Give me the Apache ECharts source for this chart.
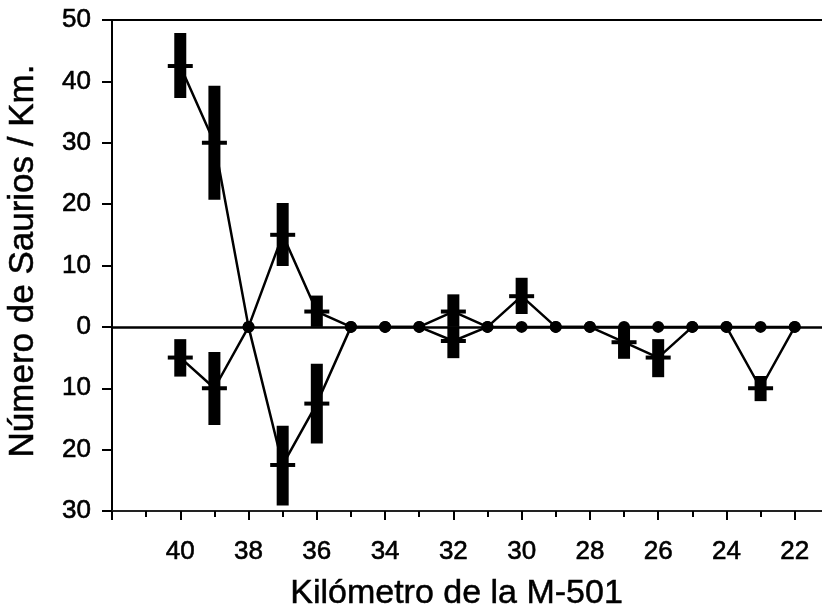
<!DOCTYPE html>
<html>
<head>
<meta charset="utf-8">
<script src="https://cdn.jsdelivr.net/npm/echarts@6/dist/echarts.min.js"></script>
<style>
html,body{margin:0;padding:0;background:#fff;}
#chart{width:822px;height:610px;}
</style>
</head>
<body>
<div id="chart"></div>
<script>
// Kilometre points along the M-501
var km = [40, 39, 38, 37, 36, 35, 34, 33, 32, 31, 30, 29, 28, 27, 26, 25, 24, 23, 22];
// Upper series (plotted above zero)
var upperMean = [42.5, 30, 0, 15, 2.5, 0, 0, 0, 2.5, 0, 5, 0, 0, 0, 0, 0, 0, 0, 0];
var upperLow  = [37.3, 20.7, null, 9.9, 0, null, null, null, 0, null, 2.1, null, null, null, null, null, null, null, null];
var upperHigh = [47.9, 39.3, null, 20.2, 5.1, null, null, null, 5.3, null, 8.0, null, null, null, null, null, null, null, null];
// Lower series (plotted below zero)
var lowerMean = [-5, -10, 0, -22.5, -12.5, 0, 0, 0, -2.3, 0, 0, 0, 0, -2.5, -5, 0, 0, -10, 0];
var lowerLow  = [-8.1, -16, null, -29.1, -19, null, null, null, -5.1, null, null, null, null, -5.2, -8.2, null, null, -12.1, null];
var lowerHigh = [-2, -4.1, null, -16.1, -6, null, null, null, 0, null, null, null, null, 0, -2, null, null, -8, null];
// Axis ticks
var yTicks = {min: -30, max: 50, interval: 10};
var xTicks = {min: 20, max: 42, interval: 2};

var FONT = "'Liberation Sans', Arial, Helvetica, sans-serif";

function lineData(means) {
  return km.map(function (k, i) {
    var v = means[i];
    return {value: [k, v], symbol: v === 0 ? 'circle' : 'none'};
  });
}
function barData(means, lows, highs) {
  var out = [];
  km.forEach(function (k, i) {
    if (lows[i] !== null) out.push([k, lows[i], highs[i], means[i]]);
  });
  return out;
}
function renderErr(params, api) {
  var x = api.value(0);
  var top = api.coord([x, api.value(2)]);
  var bot = api.coord([x, api.value(1)]);
  var mid = api.coord([x, api.value(3)]);
  var rw = 12, dw = 25, dh = 4;
  return {
    type: 'group',
    children: [
      {type: 'rect', shape: {x: top[0] - rw / 2, y: top[1], width: rw, height: bot[1] - top[1]}, style: {fill: '#000'}},
      {type: 'rect', shape: {x: mid[0] - dw / 2, y: mid[1] - dh / 2, width: dw, height: dh}, style: {fill: '#000'}}
    ]
  };
}

var chart = echarts.init(document.getElementById('chart'), null, {renderer: 'canvas'});
chart.setOption({
  backgroundColor: '#fff',
  animation: false,
  grid: {left: 112, width: 751, top: 20, height: 491, show: true, borderColor: '#000', borderWidth: 2, backgroundColor: 'transparent', containLabel: false, outerBoundsMode: 'none'},
  xAxis: {
    type: 'value', inverse: true,
    min: xTicks.min, max: xTicks.max, interval: xTicks.interval,
    axisLine: {show: true, onZero: false, lineStyle: {color: '#222', width: 2}},
    axisTick: {show: true, inside: false, length: 9, lineStyle: {color: '#000', width: 2}},
    minorTick: {show: true, splitNumber: 2, length: 6, lineStyle: {color: '#000', width: 2}},
    splitLine: {show: false},
    axisLabel: {
      color: '#000', fontFamily: FONT, fontSize: 26, margin: 28,
      textBorderColor: '#000', textBorderWidth: 0.6,
      formatter: function (v) { return v === 42 || v === 20 ? '' : String(v); }
    }
  },
  yAxis: {
    type: 'value',
    min: yTicks.min, max: yTicks.max, interval: yTicks.interval,
    axisLine: {show: true, onZero: false, lineStyle: {color: '#000', width: 2}},
    axisTick: {show: true, length: 10, lineStyle: {color: '#000', width: 2}},
    splitLine: {show: false},
    axisLabel: {
      color: '#000', fontFamily: FONT, fontSize: 26, margin: 21,
      textBorderColor: '#000', textBorderWidth: 0.6,
      formatter: function (v) { return String(Math.abs(v)); }
    }
  },
  graphic: [
    {type: 'text', left: 290, top: 576, style: {text: 'Kilómetro de la M-501', fill: '#000', stroke: '#000', lineWidth: 0.5, font: '34px ' + FONT}},
    {type: 'text', x: 6, y: 261, rotation: Math.PI / 2, style: {text: 'Número de Saurios / Km.', fill: '#000', stroke: '#000', lineWidth: 0.5, font: '35px ' + FONT, align: 'center', verticalAlign: 'top'}}
  ],
  series: [
    {
      type: 'line', data: lineData(upperMean), symbolSize: 12, showAllSymbol: true,
      itemStyle: {color: '#000'}, lineStyle: {color: '#000', width: 2.5}, z: 3,
      markLine: {silent: true, symbol: 'none', label: {show: false}, lineStyle: {color: '#000', width: 2.5, type: 'solid'}, data: [{yAxis: 0}]}
    },
    {
      type: 'line', data: lineData(lowerMean), symbolSize: 12, showAllSymbol: true,
      itemStyle: {color: '#000'}, lineStyle: {color: '#000', width: 2.5}, z: 3
    },
    {type: 'custom', data: barData(upperMean, upperLow, upperHigh), renderItem: renderErr, z: 4},
    {type: 'custom', data: barData(lowerMean, lowerLow, lowerHigh), renderItem: renderErr, z: 4}
  ]
});
</script>
</body>
</html>
